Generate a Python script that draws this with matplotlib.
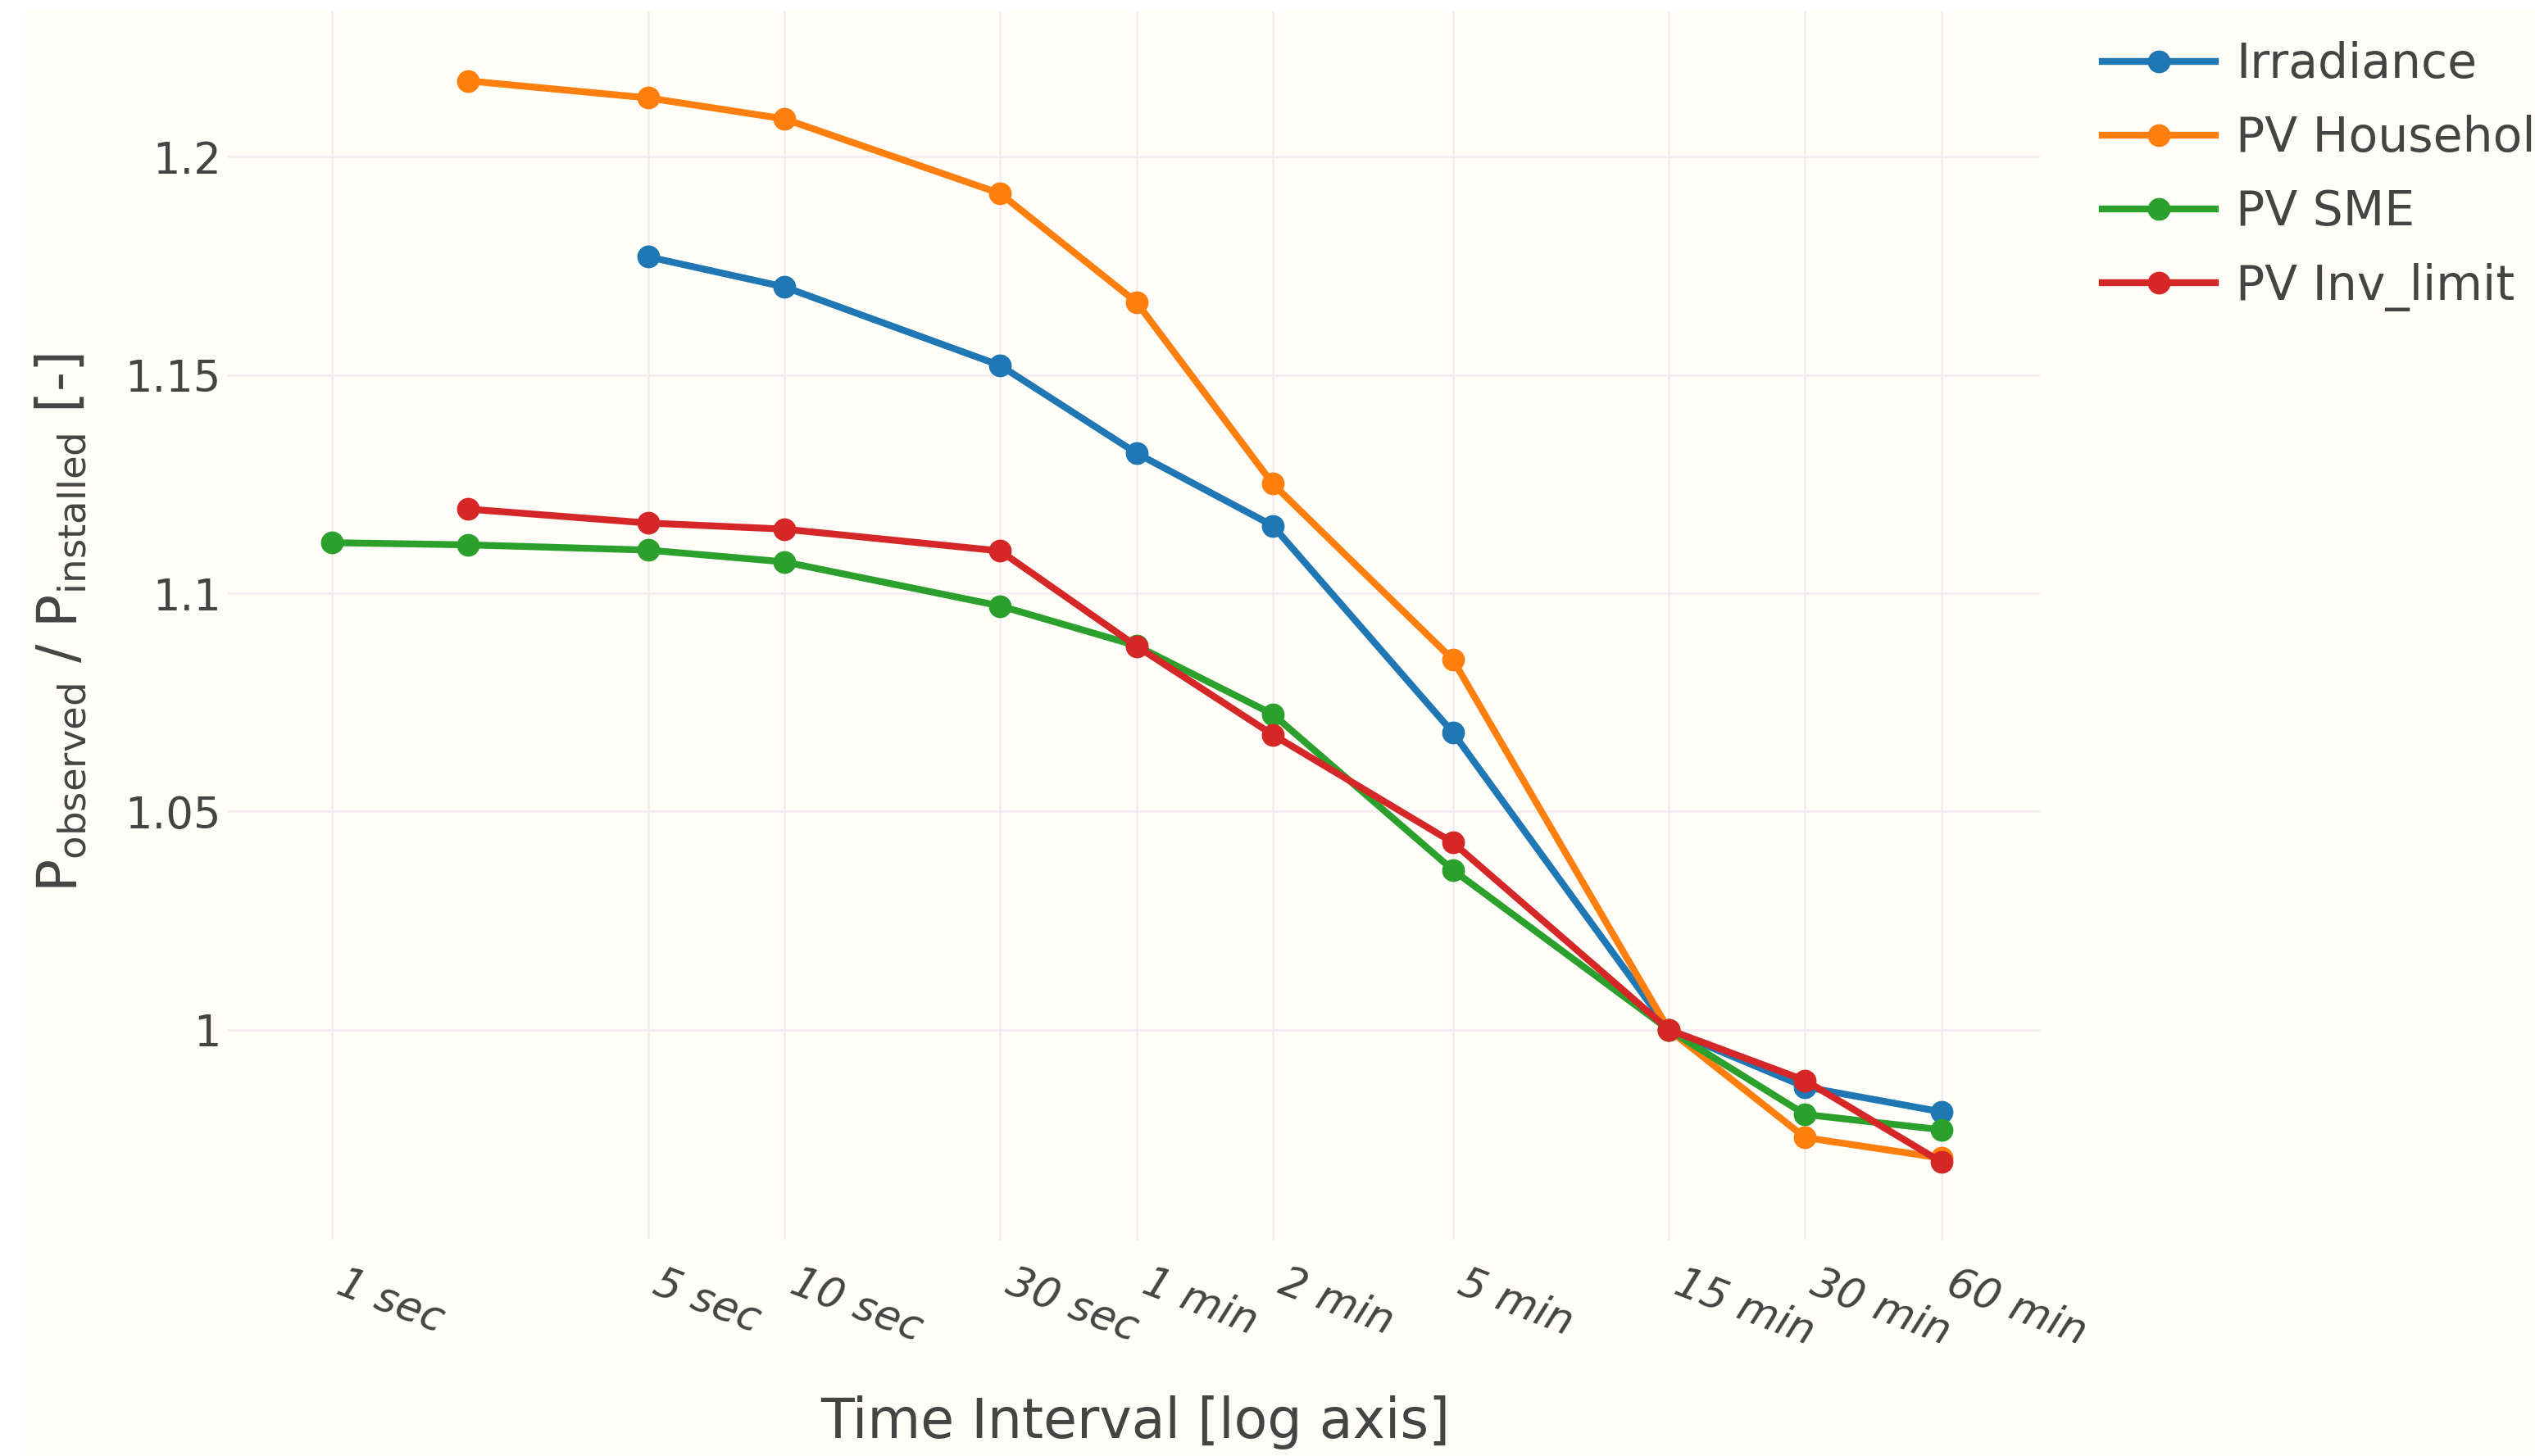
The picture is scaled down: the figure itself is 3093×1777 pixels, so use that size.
import matplotlib
matplotlib.use("Agg")
import matplotlib.pyplot as plt
from matplotlib.patches import Rectangle

PAPER, TEXT, GRID = "#fefdf8", "#444444", "#f3ebf1"
BLUE, ORANGE, GREEN, RED = "#1f77b4", "#ff7f0e", "#2ca02c", "#d62728"

# interval lengths in seconds
tick_secs = [1, 5, 10, 30, 60, 120, 300, 900, 1800, 3600]
tick_labels = ["1 sec", "5 sec", "10 sec", "30 sec", "1 min", "2 min",
               "5 min", "15 min", "30 min", "60 min"]

irr_x = [5, 10, 30, 60, 120, 300, 900, 1800, 3600]
irr_y = [1.1771, 1.1702, 1.1522, 1.1321, 1.1155, 1.0681, 1.0, 0.9869, 0.9812]

hh_x = [2, 5, 10, 30, 60, 120, 300, 900, 1800, 3600]
hh_y = [1.2174, 1.2135, 1.2087, 1.1916, 1.1667, 1.1251, 1.0848, 1.0, 0.9753, 0.9706]

sme_x = [1, 2, 5, 10, 30, 60, 120, 300, 900, 1800, 3600]
sme_y = [1.1116, 1.1111, 1.1099, 1.1072, 1.0971, 1.0880, 1.0723, 1.0366, 1.0, 0.9806, 0.9771]

inv_x = [2, 5, 10, 30, 60, 120, 300, 900, 1800, 3600]
inv_y = [1.1193, 1.1161, 1.1147, 1.1097, 1.0879, 1.0676, 1.0429, 1.0, 0.9884, 0.9697]

y_ticks = [1.0, 1.05, 1.1, 1.15, 1.2]
y_tick_labels = ["1", "1.05", "1.1", "1.15", "1.2"]

plt.rcParams["font.family"] = ["DejaVu Sans"]

W, H = 3093, 1777
fig = plt.figure(figsize=(W / 100, H / 100), dpi=100, facecolor="white")
fig.patches.append(Rectangle((30 / W, 0), 1, 1 - 13 / H, transform=fig.transFigure,
                             facecolor=PAPER, edgecolor="none", zorder=-10))

ax = fig.add_axes([278 / W, 1 - 1513 / H, (2489 - 278) / W, (1513 - 14) / H])
ax.set_facecolor(PAPER)
for sp in ax.spines.values():
    sp.set_visible(False)

ax.set_xscale("log")
ax.set_xlim(0.590, 5946)
ax.set_ylim(0.9519, 1.2333)
ax.grid(True, color=GRID, lw=1.8)
ax.set_axisbelow(True)
ax.minorticks_off()

series = [
    (irr_x, irr_y, BLUE, "Irradiance"),
    (hh_x, hh_y, ORANGE, "PV Household"),
    (sme_x, sme_y, GREEN, "PV SME"),
    (inv_x, inv_y, RED, "PV Inv_limit"),
]
for xs, ys, col, name in series:
    ax.plot(xs, ys, "-o", color=col, lw=6, ms=19, label=name)

ax.set_xticks(tick_secs)
# default rotation mode: the rotated box's left edge sits on the gridline
ax.set_xticklabels(tick_labels, rotation=-21, ha="left", va="top", style="italic")
ax.set_yticks(y_ticks)
ax.set_yticklabels(y_tick_labels)
ax.tick_params(axis="x", length=0, pad=20, labelsize=37, labelcolor=TEXT)
ax.tick_params(axis="y", length=0, pad=6, labelsize=38, labelcolor=TEXT)

ax.set_xlabel("Time Interval [log axis]", fontsize=48, color=TEXT, va="center")
ax.xaxis.set_label_coords(0.5007, -0.149)
ax.set_ylabel(r"P$_{\mathregular{observed}}$ / P$_{\mathregular{installed}}$ [-]",
              fontsize=48, color=TEXT, va="center")
ax.yaxis.set_label_coords(-0.092, 0.502)

leg = ax.legend(loc="upper left", bbox_to_anchor=(2565 / W, 1 - 50 / H),
                bbox_transform=fig.transFigure, frameon=False, fontsize=42,
                handlelength=2.37, handletextpad=0.43, labelspacing=0.57,
                borderpad=0, borderaxespad=0, labelcolor=TEXT)

fig.savefig("out.png", dpi=100, facecolor="white")
